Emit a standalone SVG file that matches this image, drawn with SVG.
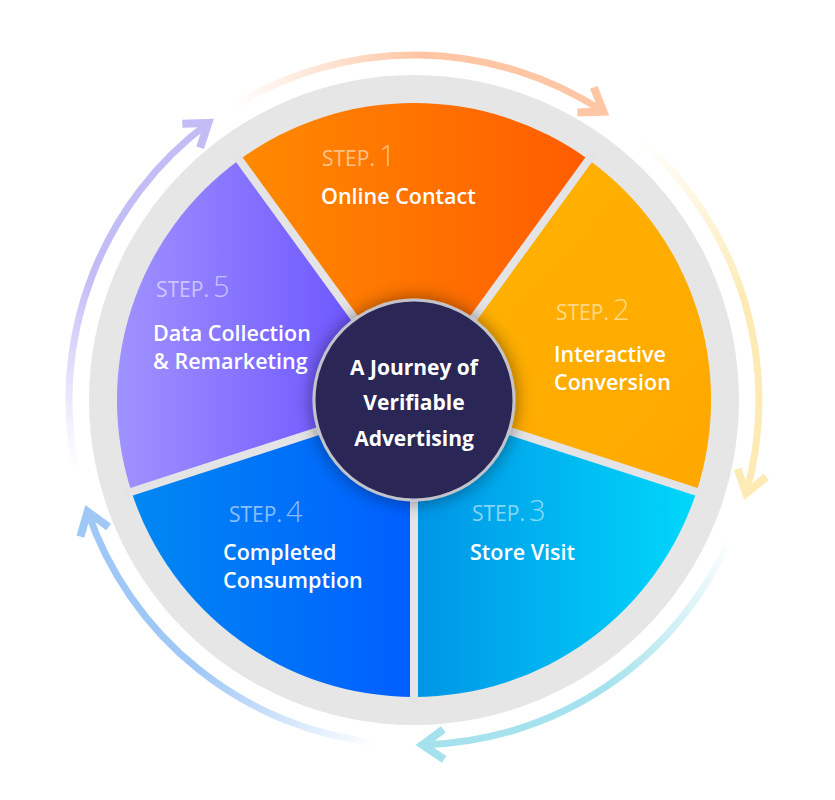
<svg xmlns="http://www.w3.org/2000/svg" width="835" height="800" viewBox="0 0 835 800">
<style>
.step{font-family:"Open Sans","Liberation Sans",sans-serif;font-weight:400;font-size:21px;fill:#ffffff;fill-opacity:0.55;}
tspan.sn{font-size:29px;font-weight:300;}
.lbl{font-family:"Open Sans","Liberation Sans",sans-serif;font-weight:600;font-size:21.5px;fill:#ffffff;}
.ctr{font-family:"Open Sans","Liberation Sans",sans-serif;font-weight:700;font-size:21px;fill:#ffffff;text-anchor:middle;}
.arc{fill:none;stroke-width:7;}
.chev{fill:none;stroke-width:8;stroke-linejoin:miter;stroke-linecap:butt;}
.gap{stroke:#E4E4E6;stroke-width:8;}
</style>
<defs>
<linearGradient id="g1" x1="0" y1="0" x2="1" y2="0"><stop offset="0" stop-color="#FF8A00"/><stop offset="1" stop-color="#FF5C00"/></linearGradient>
<linearGradient id="g2" x1="0" y1="0" x2="1" y2="1"><stop offset="0" stop-color="#FFB300"/><stop offset="1" stop-color="#FFA800"/></linearGradient>
<linearGradient id="g3" x1="0" y1="0" x2="1" y2="0"><stop offset="0" stop-color="#0094E6"/><stop offset="1" stop-color="#00D8FB"/></linearGradient>
<linearGradient id="g4" x1="0" y1="0" x2="1" y2="0"><stop offset="0" stop-color="#0088F2"/><stop offset="1" stop-color="#005EFF"/></linearGradient>
<linearGradient id="g5" x1="0" y1="0" x2="1" y2="0"><stop offset="0" stop-color="#A092FF"/><stop offset="1" stop-color="#6048FF"/></linearGradient>
<linearGradient id="a1" gradientUnits="userSpaceOnUse" x1="232.7" y1="106.5" x2="603.4" y2="111.6"><stop offset="0" stop-color="#FFC6A5" stop-opacity="0"/><stop offset="0.5" stop-color="#FFC6A5"/></linearGradient>
<linearGradient id="a2" gradientUnits="userSpaceOnUse" x1="639" y1="138.5" x2="746.1" y2="493.4"><stop offset="0" stop-color="#FDEAB5" stop-opacity="0"/><stop offset="0.5" stop-color="#FDEAB5"/></linearGradient>
<linearGradient id="a3" gradientUnits="userSpaceOnUse" x1="730.2" y1="538.1" x2="422.4" y2="744.9"><stop offset="0" stop-color="#A5E2ED" stop-opacity="0"/><stop offset="0.5" stop-color="#A5E2ED"/></linearGradient>
<linearGradient id="a4" gradientUnits="userSpaceOnUse" x1="377.3" y1="743" x2="87.6" y2="511.7"><stop offset="0" stop-color="#A0C8F7" stop-opacity="0"/><stop offset="0.5" stop-color="#A0C8F7"/></linearGradient>
<linearGradient id="a5" gradientUnits="userSpaceOnUse" x1="76" y1="469.4" x2="208.3" y2="123"><stop offset="0" stop-color="#C3BDF6" stop-opacity="0"/><stop offset="0.5" stop-color="#C3BDF6"/></linearGradient>
<filter id="sh" x="-40%" y="-40%" width="180%" height="180%"><feDropShadow dx="0" dy="0" stdDeviation="9" flood-color="#000000" flood-opacity="0.45"/></filter>
</defs>
<rect width="835" height="800" fill="#ffffff"/>
<g id="ring">
<circle cx="414" cy="400" r="325" fill="#E6E6E6"/>
</g>
<g id="node-step1">
<path d="M414 400 L239.4 159.7 A297 297 0 0 1 588.6 159.7 Z" fill="url(#g1)"/>
<text class="step" x="322" y="166">STEP.<tspan class="sn" dx="4">1</tspan></text>
<text class="lbl" x="321" y="204">Online Contact</text>
</g>
<g id="node-step2">
<path d="M414 400 L588.6 159.7 A297 297 0 0 1 696.5 491.8 Z" fill="url(#g2)"/>
<text class="step" x="556" y="320">STEP.<tspan class="sn" dx="4">2</tspan></text>
<text class="lbl" x="554" y="362">Interactive</text>
<text class="lbl" x="554" y="390">Conversion</text>
</g>
<g id="node-step3">
<path d="M414 400 L696.5 491.8 A297 297 0 0 1 414 697 Z" fill="url(#g3)"/>
<text class="step" x="472" y="521">STEP.<tspan class="sn" dx="4">3</tspan></text>
<text class="lbl" x="470" y="560">Store Visit</text>
</g>
<g id="node-step4">
<path d="M414 400 L414 697 A297 297 0 0 1 131.5 491.8 Z" fill="url(#g4)"/>
<text class="step" x="229" y="522">STEP.<tspan class="sn" dx="4">4</tspan></text>
<text class="lbl" x="223" y="560">Completed</text>
<text class="lbl" x="223" y="588">Consumption</text>
</g>
<g id="node-step5">
<path d="M414 400 L131.5 491.8 A297 297 0 0 1 239.4 159.7 Z" fill="url(#g5)"/>
<text class="step" x="156" y="297">STEP.<tspan class="sn" dx="4">5</tspan></text>
<text class="lbl" x="153" y="341">Data Collection</text>
<text class="lbl" x="153" y="369">&amp; Remarketing</text>
</g>
<g id="gaps">
<line class="gap" x1="414" y1="400" x2="234.7" y2="153.3"/>
<line class="gap" x1="414" y1="400" x2="593.3" y2="153.3"/>
<line class="gap" x1="414" y1="400" x2="704.1" y2="494.2"/>
<line class="gap" x1="414" y1="400" x2="414" y2="705"/>
<line class="gap" x1="414" y1="400" x2="123.9" y2="494.2"/>
</g>
<g id="node-center">
<circle cx="414" cy="400" r="100" fill="#2B2856" stroke="#C3C3CC" stroke-width="3" filter="url(#sh)"/>
<text class="ctr" x="414" y="375">A Journey of</text>
<text class="ctr" x="414" y="410">Verifiable</text>
<text class="ctr" x="414" y="446">Advertising</text>
</g>
<g id="connectors">
<path class="arc" d="M232.7 106.5 A345 345 0 0 1 603.4 111.6" stroke="url(#a1)"/>
<polyline class="chev" points="593.8,87.4 603.4,111.6 577.4,112.4" stroke="#FFC6A5"/>
<path class="arc" d="M639 138.5 A345 345 0 0 1 746.1 493.4" stroke="url(#a2)"/>
<polyline class="chev" points="766.2,476.9 746.1,493.4 737.5,468.9" stroke="#FDEAB5"/>
<path class="arc" d="M730.2 538.1 A345 345 0 0 1 422.4 744.9" stroke="url(#a3)"/>
<polyline class="chev" points="444.1,759.3 422.4,744.9 443.3,729.5" stroke="#A5E2ED"/>
<path class="arc" d="M377.3 743 A345 345 0 0 1 87.6 511.7" stroke="url(#a4)"/>
<polyline class="chev" points="80.4,536.7 87.6,511.7 108.6,527" stroke="#A0C8F7"/>
<path class="arc" d="M76 469.4 A345 345 0 0 1 208.3 123" stroke="url(#a5)"/>
<polyline class="chev" points="182.3,123.7 208.3,123 200.1,147.7" stroke="#C3BDF6"/>
</g>
</svg>
